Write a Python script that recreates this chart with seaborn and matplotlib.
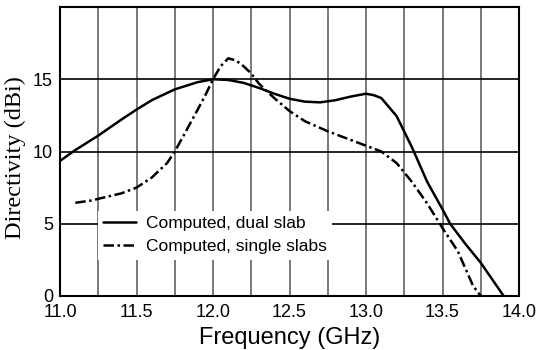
import matplotlib
matplotlib.use("Agg")
import matplotlib.pyplot as plt
from matplotlib.ticker import MultipleLocator
import seaborn as sns
import pandas as pd

# ---- data ----
dual_freq = [11.0, 11.1, 11.25, 11.4, 11.5, 11.6, 11.75, 11.9, 12.0, 12.1, 12.2, 12.3,
             12.4, 12.5, 12.6, 12.7, 12.8, 12.9, 13.0, 13.05, 13.1, 13.2, 13.3, 13.4,
             13.5, 13.55, 13.65, 13.75, 13.9]
dual_dir = [9.35, 10.1, 11.1, 12.2, 12.9, 13.55, 14.3, 14.8, 15.0, 14.95, 14.75, 14.4,
            14.0, 13.65, 13.45, 13.4, 13.55, 13.8, 14.0, 13.9, 13.7, 12.45, 10.3, 7.9,
            6.0, 5.0, 3.6, 2.3, 0.0]

single_freq = [11.1, 11.2, 11.3, 11.4, 11.5, 11.6, 11.7, 11.75, 11.8, 11.9, 11.95, 12.0,
               12.05, 12.1, 12.15, 12.2, 12.25, 12.3, 12.4, 12.5, 12.6, 12.75, 12.9,
               13.0, 13.1, 13.2, 13.3, 13.4, 13.5, 13.6, 13.7, 13.75]
single_dir = [6.45, 6.6, 6.85, 7.1, 7.5, 8.2, 9.2, 10.0, 10.95, 12.9, 13.9, 15.0,
              15.9, 16.45, 16.3, 15.9, 15.4, 14.7, 13.7, 12.8, 12.1, 11.4, 10.8,
              10.4, 10.0, 9.2, 7.9, 6.4, 4.7, 3.1, 0.7, 0.0]

labels = ["Computed, dual slab", "Computed, single slabs"]
x_ticks = [11.0, 11.5, 12.0, 12.5, 13.0, 13.5, 14.0]
y_ticks = [0, 5, 10, 15]

df_dual = pd.DataFrame({"Frequency": dual_freq, "Directivity": dual_dir})
df_single = pd.DataFrame({"Frequency": single_freq, "Directivity": single_dir})

sns.set_style("white")
plt.rcParams['font.family'] = ['Liberation Sans', 'DejaVu Sans']

fig = plt.figure(figsize=(5.39, 3.5), dpi=100)
ax = fig.add_axes([60/539, 1-296/350, 459/539, 289/350])

sns.lineplot(data=df_dual, x="Frequency", y="Directivity", ax=ax, color="black",
             linewidth=1.8, label=labels[0], sort=False, zorder=3)
sns.lineplot(data=df_single, x="Frequency", y="Directivity", ax=ax, color="black",
             linewidth=1.8, linestyle=(0, (4.2, 1.4, 1, 1.4)), label=labels[1],
             sort=False, zorder=3)

ax.set_xlim(11.0, 14.0)
ax.set_ylim(0, 20)
ax.set_xticks(x_ticks)
ax.set_xticklabels([f"{v:.1f}" for v in x_ticks])
ax.set_yticks(y_ticks)
ax.set_yticklabels([str(v) for v in y_ticks])
ax.xaxis.set_minor_locator(MultipleLocator(0.25))
ax.yaxis.set_minor_locator(MultipleLocator(2.5))

ax.grid(False)
ax.grid(True, axis="x", which="both", color="#555555", linewidth=1.1)
ax.grid(True, axis="y", which="major", color="black", linewidth=1.2)
ax.set_axisbelow(True)

ax.tick_params(axis="x", which="both", length=0, labelsize=13, pad=6, colors="black")
ax.tick_params(axis="y", which="major", length=0, labelsize=13, pad=5, colors="black")
ax.tick_params(axis="y", which="minor", direction="in", length=4, width=1, color="black")

for s in ax.spines.values():
    s.set_visible(True)
    s.set_color("black")
    s.set_linewidth(1.5)

ax.set_xlabel("Frequency (GHz)", fontsize=17, color="black", labelpad=4)
ax.set_ylabel("Directivity (dBi)", fontsize=17.5, family=["Liberation Serif", "DejaVu Serif"],
              color="black")
ax.yaxis.set_label_coords(-0.075, 0.479)

leg = ax.legend(loc="upper left", bbox_to_anchor=(38/459, (296-211)/289),
                frameon=True, fancybox=False, framealpha=1, edgecolor="none",
                facecolor="white", fontsize=12.5, handlelength=1.9, handletextpad=0.55,
                labelspacing=0.45, borderpad=0.3, borderaxespad=0)
for t in leg.get_texts():
    t.set_color("black")

fig.savefig("out.png", dpi=100)
